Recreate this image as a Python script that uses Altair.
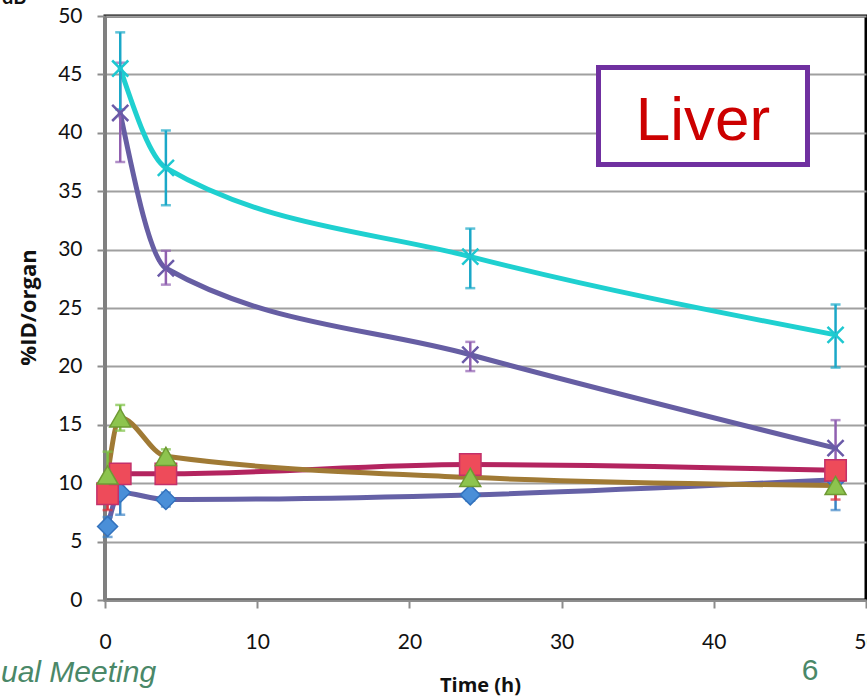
import altair as alt
import pandas as pd

# ---- data ----
t5 = [0.17, 1, 4, 24, 48]
t4 = [1, 4, 24, 48]

blue_v = [6.3, 9.2, 8.6, 9.0, 10.3]
blue_lo = [5.4, 7.3, 8.0, 8.5, 7.7]
blue_hi = [7.1, 9.7, 9.2, 9.4, 10.8]

red_v = [9.1, 10.8, 10.8, 11.6, 11.1]
red_lo = [7.7, 10.3, 10.3, 11.2, 8.6]
red_hi = [10.3, 11.3, 11.3, 12.0, 11.6]

green_v = [10.7, 15.6, 12.3, 10.5, 9.8]
green_lo = [10.0, 14.5, 11.8, 10.1, 9.2]
green_hi = [12.7, 16.7, 12.9, 10.9, 10.4]

purple_v = [41.7, 28.4, 21.0, 13.0]
purple_lo = [37.5, 27.0, 19.6, 11.0]
purple_hi = [46.0, 29.9, 22.1, 15.4]

cyan_v = [45.5, 37.0, 29.4, 22.7]
cyan_lo = [42.0, 33.8, 26.7, 19.9]
cyan_hi = [48.6, 40.2, 31.8, 25.3]

x_ticks = [0, 10, 20, 30, 40, 50]
y_ticks = [0, 5, 10, 15, 20, 25, 30, 35, 40, 45, 50]

W, H = 761, 584
LABEL_FONT = "Lato"
TITLE_FONT = "Open Sans"

series = [
    dict(t=t5, v=blue_v, lo=blue_lo, hi=blue_hi, line="#6561a6", err="#3d85c6",
         shape="diamond", fill="#4a8fd8", stroke="#3372bd", size=400, filled=True),
    dict(t=t5, v=red_v, lo=red_lo, hi=red_hi, line="#b3245f", err="#e0303a",
         shape="square", fill="#ee4b5a", stroke="#c3306a", size=460, filled=True),
    dict(t=t5, v=green_v, lo=green_lo, hi=green_hi, line="#a07a35", err="#7cc043",
         shape="triangle-up", fill="#8dc44e", stroke="#6f9a34", size=440, filled=True),
    dict(t=t4, v=purple_v, lo=purple_lo, hi=purple_hi, line="#665ea3", err="#9060b0",
         shape="M-1,-1L1,1M-1,1L1,-1", fill="none", stroke="#6a5aa8", size=260, filled=False),
    dict(t=t4, v=cyan_v, lo=cyan_lo, hi=cyan_hi, line="#1fd0d0", err="#1aa8c8",
         shape="M-1,-1L1,1M-1,1L1,-1", fill="none", stroke="#1ec8d0", size=260, filled=False),
]

xscale = alt.Scale(domain=[0, 50], nice=False, zero=False)
yscale = alt.Scale(domain=[0, 50], nice=False)

xaxis = alt.Axis(values=x_ticks, grid=False, domainColor="#8c8c8c", domainWidth=2,
                 tickColor="#8c8c8c", tickWidth=2, tickSize=8,
                 labelFont=LABEL_FONT, labelFontSize=21, labelColor="#111111",
                 labelPadding=34, labelBaseline="middle", labelFlush=False,
                 title="Time (h)", titleFont=TITLE_FONT, titleFontSize=20,
                 titleFontWeight="bold", titleColor="#111111",
                 titleX=375, titleY=85, titleBaseline="middle", titleAlign="center")
yaxis = alt.Axis(values=y_ticks, grid=True, gridColor="#a0a0a0", gridWidth=2,
                 domainColor="#808080", domainWidth=3,
                 tickColor="#8c8c8c", tickWidth=2, tickSize=8,
                 labelFont=LABEL_FONT, labelFontSize=21, labelColor="#111111",
                 labelPadding=15, labelFlush=False,
                 title="%ID/organ", titleFont=TITLE_FONT, titleFontSize=22,
                 titleFontWeight="bold", titleColor="#111111",
                 titleX=-77, titleY=291, titleAngle=270,
                 titleBaseline="middle", titleAlign="center")


def X(field):
    return alt.X(field, type="quantitative", scale=xscale, axis=xaxis)


def Y(field):
    return alt.Y(field, type="quantitative", scale=yscale, axis=yaxis)


line_layers, err_layers, pt_layers = [], [], []
for s in series:
    df = pd.DataFrame({"t": s["t"], "v": s["v"], "lo": s["lo"], "hi": s["hi"]})
    base = alt.Chart(df)
    line_layers.append(
        base.mark_line(interpolate="monotone", strokeWidth=5, color=s["line"],
                       strokeCap="round").encode(x=X("t"), y=Y("v")))
    err_layers.append(
        base.mark_rule(strokeWidth=2.5, color=s["err"]).encode(
            x=X("t"), y=Y("lo"), y2=alt.Y2("hi")))
    for f in ("lo", "hi"):
        err_layers.append(
            base.mark_tick(orient="horizontal", size=10, thickness=2.5,
                           color=s["err"]).encode(x=X("t"), y=Y(f)))
    if s["filled"]:
        pm = base.mark_point(shape=s["shape"], filled=True, size=s["size"],
                             fill=s["fill"], stroke=s["stroke"], strokeWidth=1.5,
                             opacity=1)
    else:
        pm = base.mark_point(shape=s["shape"], filled=False, size=s["size"],
                             stroke=s["stroke"], strokeWidth=2.5, opacity=1)
    pt_layers.append(pm.encode(x=X("t"), y=Y("v")))

# Liver box
one = pd.DataFrame({"label": ["Liver"]})
box = alt.Chart(one).mark_rect(fill="white", stroke="#7030a0", strokeWidth=5).encode(
    x=alt.value(493.5), x2=alt.value(702.5), y=alt.value(51.5), y2=alt.value(148.5))
liver = alt.Chart(one).mark_text(font="Liberation Sans", fontSize=62, color="#cc0000",
                                 align="center", baseline="alphabetic").encode(
    x=alt.value(598), y=alt.value(124), text="label")

meet = alt.Chart(pd.DataFrame({"label": ["ual Meeting"]})).mark_text(
    font="Liberation Sans", fontSize=30, fontStyle="italic", color="#4a8868",
    align="left", baseline="alphabetic").encode(
    x=alt.value(-104), y=alt.value(666), text="label")
page = alt.Chart(pd.DataFrame({"label": ["6"]})).mark_text(
    font="Liberation Sans", fontSize=30, color="#4a8868",
    align="center", baseline="alphabetic").encode(
    x=alt.value(705), y=alt.value(664), text="label")
corner = alt.Chart(pd.DataFrame({"label": ["dB"]})).mark_text(
    font=LABEL_FONT, fontSize=20, fontWeight="bold", color="#111111",
    align="left", baseline="alphabetic").encode(
    x=alt.value(-103), y=alt.value(-12), text="label")

chart = alt.layer(*line_layers, *err_layers, *pt_layers, box, liver, meet, page, corner).properties(
    width=W, height=H,
    padding={"left": 105, "top": 16, "right": 1, "bottom": 98},
    autosize=alt.AutoSizeParams(type="none"),
    background="white",
).configure_view(stroke="black", strokeWidth=3)

chart.save("out.html", embed_options={"renderer": "svg", "actions": False})
